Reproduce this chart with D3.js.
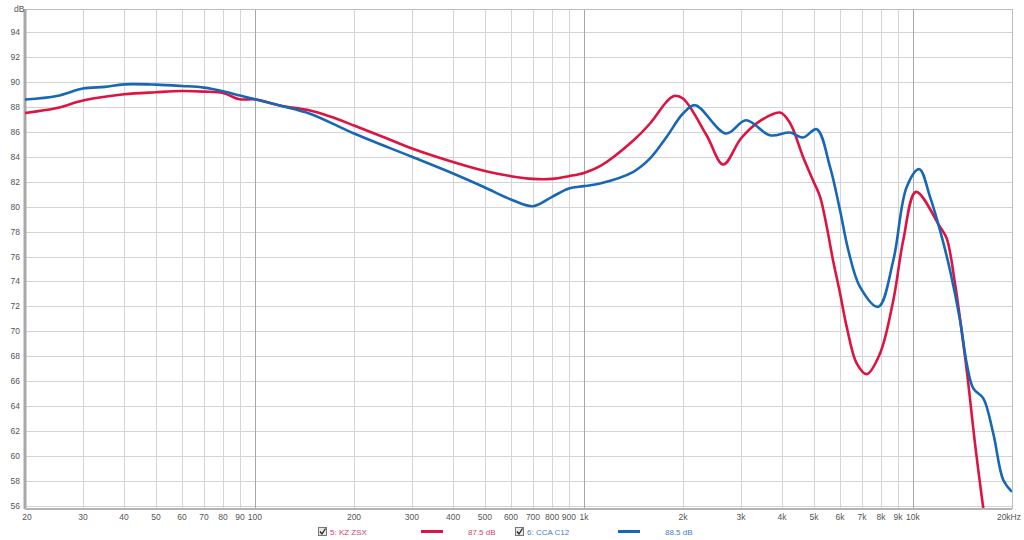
<!DOCTYPE html>
<html>
<head>
<meta charset="utf-8">
<script src="https://cdn.jsdelivr.net/npm/d3@7"></script>
<style>
    body { margin: 0; background: #fff; }
    text { font-family: "Liberation Sans", Arial, sans-serif; }
    .grid { stroke: #d4d4d4; stroke-width: 1; shape-rendering: crispEdges; }
    .gridMajor { stroke: #a8a8a8; stroke-width: 1; shape-rendering: crispEdges; }
    .tick { font-size: 8.5px; fill: #555; }
</style>
</head>
<body>
<div id="main"></div>
<script>
const ctx = {
    W: 1024,
    H: 540,
    L: 25, R: 1012, T: 9, B: 508,
};

// frequency (Hz) / level (dB) for the two measurements
const zsxFreq = [20, 25, 30, 40, 50, 60, 70, 80, 90, 100, 119, 147, 170, 200, 250, 300, 400, 500, 600, 700, 800, 900, 1000, 1119, 1413, 1588, 1785, 1878, 2000, 2361, 2652, 3000, 3430, 3944, 4229, 4631, 4969, 5218, 5468, 5715, 6002, 6290, 6746, 7234, 7940, 8716, 9344, 10214, 12085, 12665, 13420, 14224, 14730, 15434, 16360, 16900];
const zsxDb = [87.5, 87.9, 88.5, 89.0, 89.17, 89.27, 89.22, 89.1, 88.6, 88.6, 88.1, 87.7, 87.2, 86.5, 85.5, 84.66, 83.58, 82.86, 82.44, 82.22, 82.22, 82.44, 82.7, 83.24, 85.3, 86.66, 88.42, 88.87, 88.66, 85.7, 83.37, 85.46, 86.87, 87.54, 86.7, 84.0, 82.1, 80.8, 78.4, 75.7, 73.06, 70.36, 67.43, 66.57, 68.23, 72.5, 77.3, 81.18, 78.37, 77.45, 73.84, 69.03, 65.83, 61.02, 55.8, 53.0];

const c12Freq = [20, 25, 30, 35, 40, 50, 60, 70, 80, 90, 100, 119, 147, 200, 300, 400, 500, 600, 700, 800, 900, 1000, 1119, 1413, 1588, 1785, 2000, 2176, 2703, 3108, 3676, 4229, 4631, 5098, 5596, 6002, 6361, 6902, 7848, 8716, 9572, 10452, 11268, 12085, 12961, 13900, 14567, 15254, 16360, 17548, 18817, 20000];
const c12Db = [88.58, 88.87, 89.46, 89.6, 89.8, 89.78, 89.67, 89.54, 89.25, 88.9, 88.6, 88.1, 87.45, 85.86, 83.99, 82.65, 81.53, 80.57, 80.03, 80.78, 81.45, 81.64, 81.85, 82.79, 83.86, 85.6, 87.46, 88.13, 85.86, 86.92, 85.72, 85.94, 85.54, 86.2, 83.18, 79.71, 76.5, 73.57, 71.97, 75.7, 81.58, 83.0, 80.78, 78.1, 74.9, 70.9, 67.43, 65.43, 64.63, 61.8, 58.08, 57.14];

const yTicks = d3.range(56, 95, 2);
const xGrid = [20, 30, 40, 50, 60, 70, 80, 90, 100, 200, 300, 400, 500, 600, 700, 800, 900, 1000,
    2000, 3000, 4000, 5000, 6000, 7000, 8000, 9000, 10000, 20000];
const xLabels = ["20", "30", "40", "50", "60", "70", "80", "90", "100", "200", "300", "400", "500", "600", "700", "800", "900", "1k",
    "2k", "3k", "4k", "5k", "6k", "7k", "8k", "9k", "10k", "20kHz"];
const majorFreq = [100, 1000, 10000];

const series = [
    { name: "5: KZ ZSX", level: "87.5 dB", freq: zsxFreq, db: zsxDb, color: "#dc1442", text: "#d2456a" },
    { name: "6: CCA C12", level: "88.5 dB", freq: c12Freq, db: c12Db, color: "#1767b5", text: "#3f7fc2" },
];

function createChart(svgEl) {
    const x = d3.scaleLog().domain([20, 20000]).range([ctx.L, ctx.R]);
    const y = d3.scaleLinear().domain([55.84, 95.84]).range([ctx.B, ctx.T]);

    svgEl.append("defs").append("clipPath").attr("id", "plotClip")
        .append("rect")
        .attr("x", ctx.L).attr("y", ctx.T)
        .attr("width", ctx.R - ctx.L).attr("height", ctx.B - ctx.T);

    // grid
    let grid = svgEl.append("g");
    grid.selectAll("line.h")
        .data(yTicks)
        .enter()
        .append("line")
        .attr("class", "grid")
        .attr("x1", ctx.L).attr("x2", ctx.R)
        .attr("y1", d => Math.round(y(d)) + 0.5)
        .attr("y2", d => Math.round(y(d)) + 0.5);
    grid.selectAll("line.v")
        .data(xGrid)
        .enter()
        .append("line")
        .attr("class", d => majorFreq.includes(d) ? "gridMajor" : "grid")
        .attr("x1", d => Math.round(x(d)) + 0.5)
        .attr("x2", d => Math.round(x(d)) + 0.5)
        .attr("y1", ctx.T).attr("y2", ctx.B);

    // frame
    svgEl.append("rect")
        .attr("x", ctx.L + 0.5).attr("y", ctx.T + 0.5)
        .attr("width", ctx.R - ctx.L).attr("height", ctx.B - ctx.T)
        .attr("fill", "none").attr("stroke", "#bcbcbc");
    svgEl.append("line")
        .attr("x1", ctx.L).attr("x2", ctx.L)
        .attr("y1", ctx.T).attr("y2", ctx.B + 1)
        .attr("stroke", "#a8a8a8").attr("stroke-width", 3);
    svgEl.append("line")
        .attr("x1", ctx.L).attr("x2", ctx.R)
        .attr("y1", ctx.B + 1).attr("y2", ctx.B + 1)
        .attr("stroke", "#b4b4b4").attr("stroke-width", 2);

    // tick labels
    svgEl.append("g").selectAll("text")
        .data(yTicks)
        .enter()
        .append("text")
        .attr("class", "tick")
        .attr("x", 20)
        .attr("y", d => y(d) + 3)
        .attr("text-anchor", "end")
        .text(d => d);
    svgEl.append("text")
        .attr("class", "tick")
        .attr("x", 14).attr("y", 12)
        .text("dB");
    svgEl.append("g").selectAll("text")
        .data(xGrid)
        .enter()
        .append("text")
        .attr("class", "tick")
        .attr("x", (d, i) => i == 0 ? x(d) + 2 : (i == xGrid.length - 1 ? x(d) + 9 : x(d)))
        .attr("y", 520)
        .attr("text-anchor", (d, i) => i == xGrid.length - 1 ? "end" : "middle")
        .text((d, i) => xLabels[i]);

    // curves
    let line = d3.line()
        .x(d => x(d[0]))
        .y(d => y(d[1]))
        .curve(d3.curveCatmullRom.alpha(0.5));
    let curves = svgEl.append("g").attr("clip-path", "url(#plotClip)");
    series.forEach(s => {
        curves.append("path")
            .datum(s.freq.map((f, i) => [f, s.db[i]]))
            .attr("d", line)
            .attr("fill", "none")
            .attr("stroke", s.color)
            .attr("stroke-width", 2.6)
            .attr("stroke-linejoin", "round");
    });

    // legend
    let legend = svgEl.append("g");
    series.forEach((s, i) => {
        let lx = 318 + i * 197;
        let g = legend.append("g").attr("transform", "translate(" + lx + ",527)");
        g.append("rect")
            .attr("x", 0.5).attr("y", 0.5)
            .attr("width", 8).attr("height", 8)
            .attr("fill", "#e8e8e8").attr("stroke", "#777");
        g.append("path")
            .attr("d", "M2,4.5 L4,7 L7.5,1.5")
            .attr("fill", "none").attr("stroke", "#222").attr("stroke-width", 1.3);
        g.append("text")
            .attr("x", 12).attr("y", 7.5)
            .attr("font-size", "8px")
            .attr("fill", s.text)
            .text(s.name);
        g.append("line")
            .attr("x1", 103).attr("x2", 125)
            .attr("y1", 4.5).attr("y2", 4.5)
            .attr("stroke", s.color).attr("stroke-width", 3);
        g.append("text")
            .attr("x", 150).attr("y", 7.5)
            .attr("font-size", "8px")
            .attr("fill", s.text)
            .text(s.level);
    });
}

function createViz() {
    let svgEl = d3.select("#main").append("svg");
    svgEl.attr("width", ctx.W);
    svgEl.attr("height", ctx.H);
    createChart(svgEl);
}

createViz();
</script>
</body>
</html>
